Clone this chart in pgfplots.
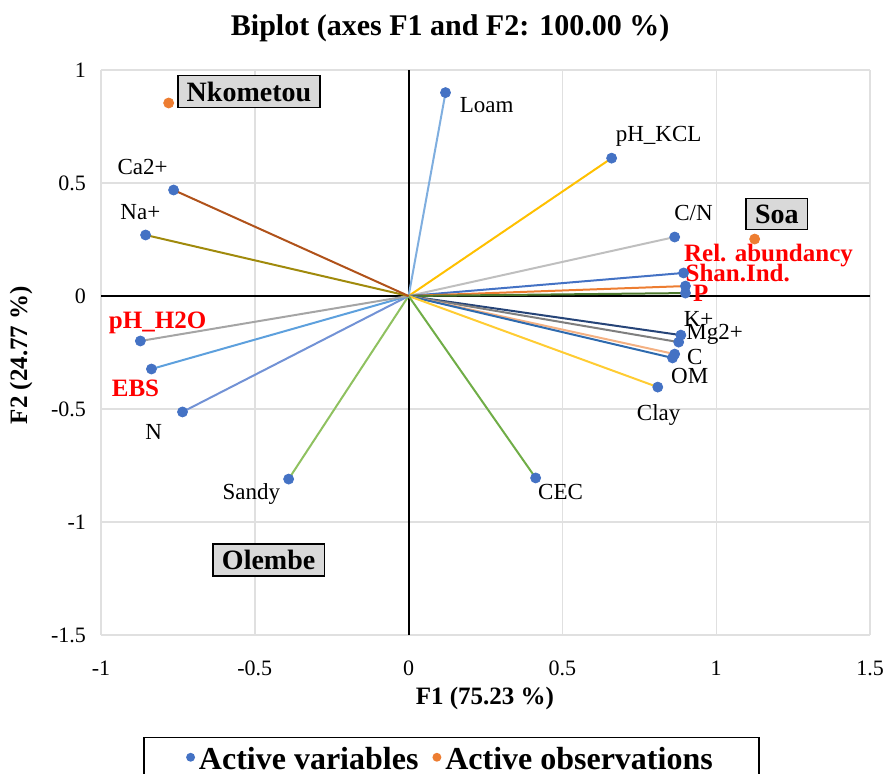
\documentclass[border=0pt]{standalone}
\usepackage{fontspec}
\setmainfont{Liberation Serif}
\usepackage{pgfplots}
\pgfplotsset{compat=1.18}
\definecolor{mblue}{HTML}{4472C4}
\definecolor{morange}{HTML}{ED7D31}
\definecolor{cLoam}{HTML}{7FAEDF}
\definecolor{cKCL}{HTML}{FFC000}
\definecolor{cCN}{HTML}{BFBFBF}
\definecolor{cRel}{HTML}{4472C4}
\definecolor{cShan}{HTML}{ED7D31}
\definecolor{cP}{HTML}{4E7A2E}
\definecolor{cK}{HTML}{264478}
\definecolor{cMg}{HTML}{7F7F7F}
\definecolor{cC}{HTML}{F4B183}
\definecolor{cOM}{HTML}{2E6AAE}
\definecolor{cClay}{HTML}{FFCC33}
\definecolor{cCEC}{HTML}{70AD47}
\definecolor{cSandy}{HTML}{8FC160}
\definecolor{cN}{HTML}{7292D5}
\definecolor{cEBS}{HTML}{5DA0DD}
\definecolor{cH2O}{HTML}{A5A5A5}
\definecolor{cNa}{HTML}{A08A0C}
\definecolor{cCa}{HTML}{B0521A}
\definecolor{redlab}{HTML}{FF0000}
\begin{document}
\begin{tikzpicture}
\begin{axis}[
  at={(0,0)}, anchor=south west,
  scale only axis, width=384.5pt, height=282.5pt,
  xmin=-1, xmax=1.5, ymin=-1.5, ymax=1,
  xtick={-1,-0.5,0,0.5,1,1.5}, ytick={-1.5,-1,-0.5,0,0.5,1},
  xticklabels={-1,-0.5,0,0.5,1,1.5},
  yticklabels={-1.5,-1,-0.5,0,0.5,1},
  grid=major, major grid style={draw=black!12, line width=0.7pt},
  axis line style={draw=none},
  major tick style={draw=none},
  tick label style={font=\fontsize{11}{13}\selectfont},
  xticklabel style={anchor=base, yshift=-20pt},
  yticklabel style={anchor=east, xshift=-4pt},
  title={\textbf{Biplot (axes F1 and F2: 100.00 \%)}},
  title style={at={(0.454,1.053)}, anchor=center, font=\fontsize{15}{18}\selectfont},
  xlabel={\textbf{F1 (75.23 \%)}},
  xlabel style={at={(0.4993,-0.1115)}, anchor=center, font=\fontsize{12.5}{15}\selectfont},
  ylabel={\textbf{F2 (24.77 \%)}},
  ylabel style={at={(-0.104,0.4956)}, anchor=center, font=\fontsize{12.5}{15}\selectfont},
  legend columns=2,
  legend style={at={(0.4558,-0.180)}, anchor=north, draw=black, line width=0.8pt,
    font=\fontsize{16}{18}\selectfont\bfseries, inner xsep=21pt, inner ysep=3pt,
    /tikz/every even column/.append style={column sep=5pt}},
  legend image code/.code={\fill[#1] (0.2cm,0.05cm) circle (1.8pt);},
  clip=false,
]
% zero lines
\draw[black, line width=1pt] (axis cs:0,-1.5) -- (axis cs:0,1);
\draw[black, line width=1pt] (axis cs:-1,0) -- (axis cs:1.5,0);
% vectors
\addplot[cLoam, line width=1pt, forget plot] coordinates {(0,0) (0.120,0.900)};
\addplot[cKCL, line width=1pt, forget plot] coordinates {(0,0) (0.660,0.610)};
\addplot[cCN, line width=1pt, forget plot] coordinates {(0,0) (0.865,0.261)};
\addplot[cRel, line width=1pt, forget plot] coordinates {(0,0) (0.894,0.102)};
\addplot[cShan, line width=1pt, forget plot] coordinates {(0,0) (0.900,0.044)};
\addplot[cP, line width=1pt, forget plot] coordinates {(0,0) (0.900,0.013)};
\addplot[cK, line width=1pt, forget plot] coordinates {(0,0) (0.885,-0.173)};
\addplot[cMg, line width=1pt, forget plot] coordinates {(0,0) (0.878,-0.204)};
\addplot[cC, line width=1pt, forget plot] coordinates {(0,0) (0.865,-0.257)};
\addplot[cOM, line width=1pt, forget plot] coordinates {(0,0) (0.858,-0.274)};
\addplot[cClay, line width=1pt, forget plot] coordinates {(0,0) (0.810,-0.403)};
\addplot[cCEC, line width=1pt, forget plot] coordinates {(0,0) (0.413,-0.805)};
\addplot[cSandy, line width=1pt, forget plot] coordinates {(0,0) (-0.390,-0.810)};
\addplot[cN, line width=1pt, forget plot] coordinates {(0,0) (-0.735,-0.513)};
\addplot[cEBS, line width=1pt, forget plot] coordinates {(0,0) (-0.836,-0.323)};
\addplot[cH2O, line width=1pt, forget plot] coordinates {(0,0) (-0.872,-0.199)};
\addplot[cNa, line width=1pt, forget plot] coordinates {(0,0) (-0.855,0.270)};
\addplot[cCa, line width=1pt, forget plot] coordinates {(0,0) (-0.764,0.469)};
% variable points
\addplot[only marks, mark=*, mark size=2.5pt, mblue, mark options={draw=mblue, fill=mblue}] coordinates {
 (0.120,0.900) (0.660,0.610) (0.865,0.261) (0.894,0.102) (0.900,0.044) (0.900,0.013)
 (0.885,-0.173) (0.878,-0.204) (0.865,-0.257) (0.858,-0.274) (0.810,-0.403)
 (0.413,-0.805) (-0.390,-0.810) (-0.735,-0.513) (-0.836,-0.323) (-0.872,-0.199)
 (-0.855,0.270) (-0.764,0.469)};
\addlegendentry{Active variables}
% observation points
\addplot[only marks, mark=*, mark size=2.5pt, morange, mark options={draw=morange, fill=morange}] coordinates {
 (-0.780,0.854) (1.125,0.252)};
\addlegendentry{Active observations}
% labels
\begin{scope}[every node/.style={font=\fontsize{11.5}{13}\selectfont, inner sep=0pt}]
\node at (axis cs:0.254,0.845) {Loam};
\node at (axis cs:0.813,0.708) {pH\_KCL};
\node at (axis cs:0.926,0.367) {C/N};
\node at (axis cs:0.943,-0.101) {K+};
\node at (axis cs:0.995,-0.170) {Mg2+};
\node at (axis cs:0.930,-0.270) {C};
\node at (axis cs:0.914,-0.355) {OM};
\node at (axis cs:0.813,-0.527) {Clay};
\node at (axis cs:0.494,-0.867) {CEC};
\node at (axis cs:-0.511,-0.876) {Sandy};
\node at (axis cs:-0.829,-0.602) {N};
\node at (axis cs:-0.872,0.372) {Na+};
\node at (axis cs:-0.865,0.571) {Ca2+};
\end{scope}
\begin{scope}[every node/.style={font=\fontsize{12.5}{14}\selectfont\bfseries, text=redlab, inner sep=0pt}]
\node at (axis cs:1.170,0.180) {Rel. abundancy};
\node at (axis cs:1.070,0.100) {Shan.Ind.};
\node at (axis cs:0.950,0.012) {P};
\node at (axis cs:-0.816,-0.120) {pH\_H2O};
\node at (axis cs:-0.888,-0.407) {EBS};
\end{scope}
\begin{scope}[every node/.style={font=\fontsize{14}{16}\selectfont\bfseries, fill=black!15, draw=black, line width=0.8pt, inner xsep=4.5pt, inner ysep=3pt}]
\node at (axis cs:-0.519,0.905) {Nkometou};
\node at (axis cs:1.197,0.363) {Soa};
\node at (axis cs:-0.455,-1.168) {Olembe};
\end{scope}
\end{axis}
\pgfresetboundingbox
\useasboundingbox (-50.5pt,-69pt) rectangle (392.5pt,317.5pt);
\end{tikzpicture}
\end{document}
